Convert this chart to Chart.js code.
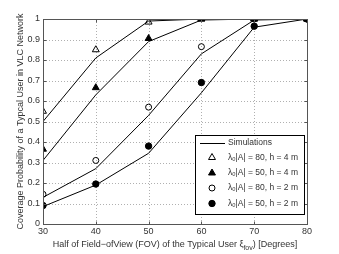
<!DOCTYPE html>
<html><head><meta charset="utf-8">
<script src="https://cdn.jsdelivr.net/npm/chart.js@4"></script>
<style>html,body{margin:0;padding:0;background:#fff}canvas{display:block}</style>
</head><body>
<canvas id="c" width="339" height="254"></canvas>
<script>
const fov = [30, 40, 50, 60, 70, 80];
const yTicks = [0, 0.1, 0.2, 0.3, 0.4, 0.5, 0.6, 0.7, 0.8, 0.9, 1];
// Simulation curves
const simA80h4 = [0.50, 0.81, 0.99, 1.00, 1.00, 1.00];
const simA50h4 = [0.31, 0.63, 0.89, 0.995, 1.00, 1.00];
const simA80h2 = [0.13, 0.27, 0.53, 0.83, 0.995, 1.00];
const simA50h2 = [0.085, 0.19, 0.345, 0.64, 0.96, 1.00];
// Analytical markers
const anA80h4 = [0.55, 0.85, 0.985, 1.00, 1.00, 1.00];
const anA50h4 = [0.365, 0.665, 0.905, 1.00, 1.00, 1.00];
const anA80h2 = [0.145, 0.31, 0.57, 0.865, 1.00, 1.00];
const anA50h2 = [0.09, 0.195, 0.38, 0.69, 0.965, 1.00];
const legendLabels = ['Simulations', 'λₒ|A| = 80, h = 4 m', 'λₒ|A| = 50, h = 4 m', 'λₒ|A| = 80, h = 2 m', 'λₒ|A| = 50, h = 2 m'];
const xTitle = ['Half of Field\u2212ofView (FOV) of the Typical User ξ', 'fov', ') [Degrees]'];
const yTitle = 'Coverage Probability of a Typcal User in VLC Network';

const pts = a => a.map((v, i) => ({x: fov[i], y: v}));
const FONT = '"Liberation Sans", Arial, sans-serif';
const TXT = '#333';

function lineDs(d) {
  return {type: 'line', data: pts(d), borderColor: '#000', borderWidth: 1, pointRadius: 0, fill: false, tension: 0};
}
function markDs(d, style, filled, r) {
  return {type: 'scatter', data: pts(d), showLine: false, pointStyle: style, pointRadius: r, pointHoverRadius: r,
    borderColor: '#000', borderWidth: 1, backgroundColor: filled ? '#000' : 'rgba(0,0,0,0)'};
}

const datasets = [
  markDs(anA50h2, 'circle', true, 3.2),
  markDs(anA80h2, 'circle', false, 3.0),
  markDs(anA50h4, 'triangle', true, 4.0),
  markDs(anA80h4, 'triangle', false, 4.0),
  lineDs(simA80h4), lineDs(simA50h4), lineDs(simA80h2), lineDs(simA50h2)
];

const decor = {
  id: 'decor',
  beforeDatasetsDraw(chart) {
    const {ctx, chartArea: a, scales: {x, y}} = chart;
    ctx.save();
    ctx.strokeStyle = '#b0b0b0';
    ctx.lineWidth = 1;
    ctx.setLineDash([1, 2]);
    fov.forEach(v => {
      const px = Math.round(x.getPixelForValue(v)) + 0.5;
      ctx.beginPath(); ctx.moveTo(px, a.top); ctx.lineTo(px, a.bottom); ctx.stroke();
    });
    yTicks.forEach(v => {
      const py = Math.round(y.getPixelForValue(v)) + 0.5;
      ctx.beginPath(); ctx.moveTo(a.left, py); ctx.lineTo(a.right, py); ctx.stroke();
    });
    ctx.restore();
  },
  afterDatasetsDraw(chart) {
    const {ctx, chartArea: a, scales: {x, y}} = chart;
    ctx.save();
    ctx.strokeStyle = '#555';
    ctx.lineWidth = 1;
    const L = Math.round(a.left) + 0.5, R = Math.round(a.right) + 0.5, T = Math.round(a.top) + 0.5, B = Math.round(a.bottom) + 0.5;
    ctx.strokeRect(L, T, R - L, B - T);
    const tl = 3;
    fov.forEach(v => {
      const px = Math.round(x.getPixelForValue(v)) + 0.5;
      ctx.beginPath(); ctx.moveTo(px, B); ctx.lineTo(px, B - tl); ctx.moveTo(px, T); ctx.lineTo(px, T + tl); ctx.stroke();
    });
    yTicks.forEach(v => {
      const py = Math.round(y.getPixelForValue(v)) + 0.5;
      ctx.beginPath(); ctx.moveTo(L, py); ctx.lineTo(L + tl, py); ctx.moveTo(R, py); ctx.lineTo(R - tl, py); ctx.stroke();
    });
    // Legend
    const lx = 195.5, ly = 135.5, lw = 109, lh = 79;
    ctx.fillStyle = '#fff';
    ctx.fillRect(lx, ly, lw, lh);
    ctx.strokeStyle = '#000';
    ctx.strokeRect(lx, ly, lw, lh);
    const rows = [143, 157.5, 173, 188, 203.5];
    ctx.font = '8.5px ' + FONT;
    ctx.fillStyle = TXT;
    ctx.textBaseline = 'middle';
    ctx.textAlign = 'left';
    ctx.strokeStyle = '#000';
    ctx.beginPath(); ctx.moveTo(200, rows[0] + 0.5); ctx.lineTo(225, rows[0] + 0.5); ctx.stroke();
    ctx.fillText(legendLabels[0], 228, rows[0]);
    const order = [3, 2, 1, 0];
    order.forEach((di, k) => {
      const ds = chart.data.datasets[di];
      const cx = 212, cy = rows[k + 1];
      ctx.fillStyle = ds.backgroundColor;
      ctx.strokeStyle = '#000';
      ctx.beginPath();
      if (ds.pointStyle === 'circle') ctx.arc(cx, cy, ds.pointRadius, 0, 2 * Math.PI);
      else {
        const r = ds.pointRadius;
        ctx.moveTo(cx, cy - r); ctx.lineTo(cx + r * 0.87, cy + r * 0.5); ctx.lineTo(cx - r * 0.87, cy + r * 0.5); ctx.closePath();
      }
      ctx.fill(); ctx.stroke();
      ctx.fillStyle = TXT;
      ctx.fillText(legendLabels[k + 1], 228, rows[k + 1]);
    });
    // Axis titles
    ctx.fillStyle = TXT;
    ctx.font = '9px ' + FONT;
    const sub = '7px ' + FONT;
    const w0 = ctx.measureText(xTitle[0]).width, w2 = ctx.measureText(xTitle[2]).width;
    ctx.font = sub; const w1 = ctx.measureText(xTitle[1]).width;
    const cx = (a.left + a.right) / 2;
    let sx = cx - (w0 + w1 + w2) / 2;
    const ty = 245;
    ctx.font = '9px ' + FONT; ctx.fillText(xTitle[0], sx, ty); sx += w0;
    ctx.font = sub; ctx.fillText(xTitle[1], sx, ty + 3); sx += w1;
    ctx.font = '9px ' + FONT; ctx.fillText(xTitle[2], sx, ty);
    ctx.translate(21, (a.top + a.bottom) / 2);
    ctx.rotate(-Math.PI / 2);
    ctx.textAlign = 'center';
    ctx.fillText(yTitle, 0, 0);
    ctx.restore();
  }
};

new Chart(document.getElementById('c'), {
  data: {datasets},
  options: {
    responsive: false,
    animation: false,
    layout: {padding: {left: 0, right: 32, top: 19, bottom: 0}},
    plugins: {legend: {display: false}, tooltip: {enabled: false}},
    scales: {
      x: {type: 'linear', min: 30, max: 80,
        afterBuildTicks: s => { s.ticks = fov.map(v => ({value: v})); },
        afterFit: s => { s.height = 30; },
        grid: {display: false, drawTicks: false}, border: {display: false},
        ticks: {font: {family: FONT, size: 9}, color: TXT, padding: 2, maxRotation: 0}},
      y: {type: 'linear', min: 0, max: 1,
        afterBuildTicks: s => { s.ticks = yTicks.map(v => ({value: v})); },
        afterFit: s => { s.width = 43; },
        grid: {display: false, drawTicks: false}, border: {display: false},
        ticks: {font: {family: FONT, size: 9}, color: TXT, padding: 3, callback: v => String(Math.round(v * 10) / 10)}}
    }
  },
  plugins: [decor]
});
</script>
</body></html>
